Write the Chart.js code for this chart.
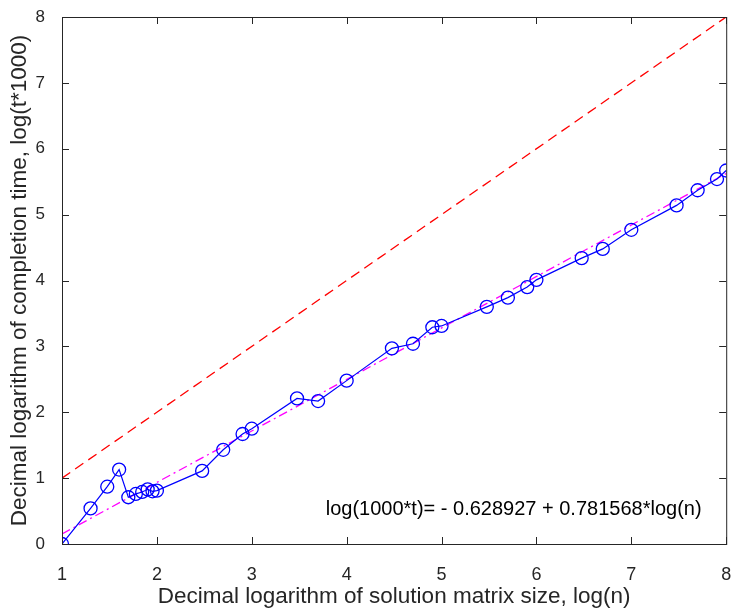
<!DOCTYPE html>
<html>
<head>
<meta charset="utf-8">
<script src="https://cdn.jsdelivr.net/npm/chart.js@4.4.0/dist/chart.umd.min.js"></script>
<style>
  html, body { margin: 0; padding: 0; background: #fff; }
  #wrap { width: 734px; height: 610px; position: relative; }
</style>
</head>
<body>
<div id="wrap"><canvas id="timeChart"></canvas></div>
<script>
// --- Chart Data ---
const logN = [1, 1.301, 1.477, 1.602, 1.699, 1.778, 1.845, 1.903, 1.954, 2,
  2.477, 2.699, 2.903, 3, 3.477, 3.699, 4, 4.477, 4.699, 4.903, 5,
  5.477, 5.699, 5.903, 6, 6.477, 6.699, 7, 7.477, 7.699, 7.903, 8];
const logT = [0.0, 0.54, 0.87, 1.13, 0.71, 0.76, 0.79, 0.83, 0.80, 0.81,
  1.11, 1.43, 1.67, 1.75, 2.21, 2.17, 2.48, 2.97, 3.04, 3.29, 3.31,
  3.60, 3.74, 3.90, 4.01, 4.34, 4.48, 4.77, 5.14, 5.37, 5.54, 5.67];
const refX = [1, 8];
const refY = [1, 8];
const fitX = [1, 8];
const fitY = [0.153, 5.624];
const xTicks = [1, 2, 3, 4, 5, 6, 7, 8];
const yTicks = [0, 1, 2, 3, 4, 5, 6, 7, 8];
const fitLabel = 'log(1000*t)= - 0.628927 + 0.781568*log(n)';

const axisColor = '#262626';
const fontFamily = '"Liberation Sans", Arial, sans-serif';

const toPoints = (xs, ys) => xs.map((x, i) => ({ x: x, y: ys[i] }));

// box + inward ticks, MATLAB style
const boxPlugin = {
  id: 'box',
  afterDraw(chart) {
    const { ctx, chartArea: a, scales } = chart;
    ctx.save();
    ctx.strokeStyle = axisColor;
    ctx.lineWidth = 1;
    ctx.strokeRect(a.left + 0.5, a.top + 0.5, a.right - a.left, a.bottom - a.top);
    xTicks.forEach(v => {
      const px = Math.round(scales.x.getPixelForValue(v)) + 0.5;
      ctx.beginPath();
      ctx.moveTo(px, a.bottom); ctx.lineTo(px, a.bottom - 7);
      ctx.moveTo(px, a.top); ctx.lineTo(px, a.top + 7);
      ctx.stroke();
    });
    yTicks.forEach(v => {
      const py = Math.round(scales.y.getPixelForValue(v)) + 0.5;
      ctx.beginPath();
      ctx.moveTo(a.left, py); ctx.lineTo(a.left + 7, py);
      ctx.moveTo(a.right, py); ctx.lineTo(a.right - 7, py);
      ctx.stroke();
    });
    // fit equation
    ctx.fillStyle = '#000';
    ctx.font = '20px ' + fontFamily;
    ctx.textAlign = 'center';
    ctx.textBaseline = 'middle';
    ctx.fillText(fitLabel, scales.x.getPixelForValue(5.76), scales.y.getPixelForValue(0.53));
    ctx.restore();
  }
};

const ctx = document.getElementById('timeChart').getContext('2d');
const timeChart = new Chart(ctx, {
  type: 'scatter',
  data: {
    datasets: [
      {
        label: 'measured',
        data: toPoints(logN, logT),
        showLine: true,
        borderColor: '#0000ff',
        backgroundColor: 'rgba(0,0,0,0)',
        borderWidth: 1.2,
        pointRadius: 6.5,
        pointBorderWidth: 1.3,
        pointBorderColor: '#0000ff',
        tension: 0
      },
      {
        label: 'reference',
        data: toPoints(refX, refY),
        showLine: true,
        borderColor: '#ff0000',
        borderWidth: 1.3,
        borderDash: [10, 6],
        pointRadius: 0
      },
      {
        label: 'fit',
        data: toPoints(fitX, fitY),
        showLine: true,
        borderColor: '#ff00ff',
        borderWidth: 1.3,
        borderDash: [9, 4, 2, 4],
        pointRadius: 0
      }
    ]
  },
  options: {
    responsive: true,
    maintainAspectRatio: false,
    animation: false,
    layout: { padding: { left: 0, right: 6, top: 17, bottom: 0 } },
    plugins: {
      legend: { display: false },
      tooltip: { enabled: false }
    },
    scales: {
      x: {
        type: 'linear',
        min: 1, max: 8,
        afterBuildTicks: s => { s.ticks = xTicks.map(v => ({ value: v })); },
        afterFit: s => { s.height = 66; s.paddingLeft = 0; s.paddingRight = 0; },
        grid: { display: false },
        border: { display: false },
        ticks: { color: axisColor, padding: 12, maxRotation: 0, font: { family: fontFamily, size: 18 } },
        title: {
          display: true,
          text: 'Decimal logarithm of solution matrix size, log(n)',
          color: axisColor,
          padding: { top: 0, bottom: 0 },
          font: { family: fontFamily, size: 22.5 }
        }
      },
      y: {
        type: 'linear',
        min: 0, max: 8,
        afterBuildTicks: s => { s.ticks = yTicks.map(v => ({ value: v })); },
        afterFit: s => { s.width = 62; s.paddingTop = 0; s.paddingBottom = 0; },
        grid: { display: false },
        border: { display: false },
        ticks: { color: axisColor, padding: 9, font: { family: fontFamily, size: 17 } },
        title: {
          display: true,
          text: 'Decimal logarithm of completion time, log(t*1000)',
          color: axisColor,
          padding: { top: 6, bottom: 0 },
          font: { family: fontFamily, size: 22.5 }
        }
      }
    }
  },
  plugins: [boxPlugin]
});
</script>
</body>
</html>
